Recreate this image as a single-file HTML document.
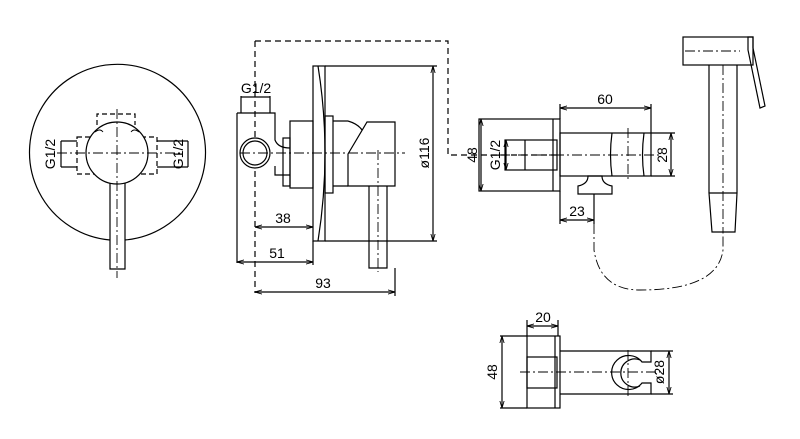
<!DOCTYPE html>
<html><head><meta charset="utf-8"><style>
html,body{margin:0;padding:0;background:#fff;width:800px;height:439px;overflow:hidden}
svg{display:block}
text{font-family:"Liberation Sans",sans-serif;font-size:14px;fill:#000}
</style></head><body>
<svg width="800" height="439" viewBox="0 0 800 439" xmlns="http://www.w3.org/2000/svg">
<defs>
<marker id="a" viewBox="0 0 10 10" refX="10" refY="5" markerWidth="6" markerHeight="6" orient="auto-start-reverse"><path d="M0,2 L10,5 L0,8" fill="none" stroke="#000" stroke-width="1.2"/></marker>
</defs>
<g fill="none" stroke="#000" stroke-width="1.2">
<!-- front view -->
<path d="M110,240 A88,88 0 1 1 125,240"/>
<path d="M77,137 H157 V174 H77 Z" stroke-dasharray="5,3"/>
<path d="M97,125 V114 H135 V125" stroke-dasharray="5,3"/>
<circle cx="117" cy="153" r="31" fill="#fff"/>
<path d="M95,132 Q100,128 103,132 M131,132 Q134,128 139,132" stroke-width="0.9"/>
<path d="M110,183 V269 H125 V183"/>
<path d="M61,141 V167 M61,141 H77 M61,167 H77 M188,141 V167 M188,141 H157 M188,167 H157"/>
<path d="M117,109 V278 M57,153 H180" stroke-width="0.9" stroke-dasharray="10,3,2,3"/>
<!-- side view -->
<path d="M255,41 H448 V155 H560" stroke-dasharray="6,4"/>
<path d="M255,41 V293" stroke-dasharray="6,4"/>
<path d="M237,113 V263 M237,113 H275 V140 Q278,148 290,148 M275,166 V175 H290 M241,113 V96 M270,113 V96"/>
<circle cx="255" cy="153" r="15" fill="#fff"/><circle cx="255" cy="153" r="12"/>
<rect x="283" y="138" width="7" height="48"/>
<rect x="290" y="121" width="23" height="67"/>
<rect x="313" y="66" width="12" height="175"/>
<path d="M318,66 Q332,153 318,241"/>
<rect x="325" y="116" width="8" height="77"/>
<path d="M333,121 H348 M333,186 H348 M348,121 Q358,124 362,130"/>
<path d="M367,122 H395 V186 H348 V154 Z"/>
<path d="M369,186 V268 H387 V186"/>
<path d="M240,153 H405 M378,150 V272" stroke-width="0.9" stroke-dasharray="10,3,2,3"/>
<path d="M325,66 H437 M325,241 H437 M313,241 V265 M395,268 V296"/>
<path d="M433,66 V241" marker-start="url(#a)" marker-end="url(#a)"/>
<path d="M255,227 H313" marker-start="url(#a)" marker-end="url(#a)"/>
<path d="M237,262 H313" marker-start="url(#a)" marker-end="url(#a)"/>
<path d="M255,292 H395" marker-start="url(#a)" marker-end="url(#a)"/>
<path d="M241,97 H270"/>
<!-- right: wall outlet -->
<rect x="479" y="119" width="81" height="72"/>
<path d="M553,119 V191"/>
<rect x="505" y="140" width="52" height="30"/><path d="M525,140 V170"/>
<rect x="560" y="133" width="91" height="43"/>
<path d="M612,133 Q609,155 612,176 M644,133 Q641,155 644,176"/>
<path d="M578,186 Q588,184 588,176 H602 Q602,184 612,186 V194 H578 Z"/>
<path d="M651,133 H675 M651,176 H675 M560,119 V104 M651,133 V104 M594,194 V224 M560,191 V224"/>
<path d="M481,119 V191" marker-start="url(#a)" marker-end="url(#a)"/>
<path d="M506,140 V170" marker-start="url(#a)" marker-end="url(#a)"/>
<path d="M671,133 V176" marker-start="url(#a)" marker-end="url(#a)"/>
<path d="M560,108 H651" marker-start="url(#a)" marker-end="url(#a)"/>
<path d="M560,220 H594" marker-start="url(#a)" marker-end="url(#a)"/>
<path d="M500,155 H660 M628,128 V180" stroke-width="0.9" stroke-dasharray="10,3,2,3"/>
<path d="M594,224 V250 Q600,290 640,290 Q718,290 723,250 V232" stroke-width="0.9" stroke-dasharray="10,3,2,3"/>
<!-- shower head -->
<rect x="683" y="37" width="70" height="28"/>
<path d="M748,37 H753 V48 L765,106 L760,108 L748,50 Z"/>
<path d="M709,65 V193 M737,65 V193 M709,193 H737 L735,232 H712 Z"/>
<path d="M685,51 H740 M723,65 V232" stroke-width="0.9" stroke-dasharray="10,3,2,3"/>
<!-- bottom view -->
<rect x="527" y="336" width="33" height="72"/>
<path d="M555,336 V408"/>
<rect x="527" y="357" width="30" height="31"/>
<path d="M560,351 H651 V362 H642 A17,17 0 1 0 642,383 H651 V394 H560"/>
<path d="M640,360 A14,14 0 1 0 640,386"/>
<path d="M651,351 H673 M651,394 H673 M500,336 H527 M500,408 H527 M527,336 V320 M558,336 V320"/>
<path d="M502,336 V408" marker-start="url(#a)" marker-end="url(#a)"/>
<path d="M669,351 V394" marker-start="url(#a)" marker-end="url(#a)"/>
<path d="M527,326 H558" marker-start="url(#a)" marker-end="url(#a)"/>
<path d="M520,372 H660 M628,350 V398" stroke-width="0.9" stroke-dasharray="10,3,2,3"/>
</g>
<g>
<text x="55" y="154" text-anchor="middle" transform="rotate(-90 55 154)">G1/2</text>
<text x="183" y="154" text-anchor="middle" transform="rotate(-90 183 154)">G1/2</text>
<text x="256" y="93" text-anchor="middle">G1/2</text>
<text x="283" y="223" text-anchor="middle">38</text>
<text x="277" y="258" text-anchor="middle">51</text>
<text x="323" y="288" text-anchor="middle">93</text>
<text x="429" y="153" text-anchor="middle" transform="rotate(-90 429 153)">ø116</text>
<text x="605" y="104" text-anchor="middle">60</text>
<text x="577" y="216" text-anchor="middle">23</text>
<text x="477" y="155" text-anchor="middle" transform="rotate(-90 477 155)">48</text>
<text x="500" y="155" text-anchor="middle" transform="rotate(-90 500 155)">G1/2</text>
<text x="667" y="155" text-anchor="middle" transform="rotate(-90 667 155)">28</text>
<text x="543" y="322" text-anchor="middle">20</text>
<text x="497" y="372" text-anchor="middle" transform="rotate(-90 497 372)">48</text>
<text x="664" y="372" text-anchor="middle" transform="rotate(-90 664 372)">ø28</text>
</g>
</svg>
</body></html>
